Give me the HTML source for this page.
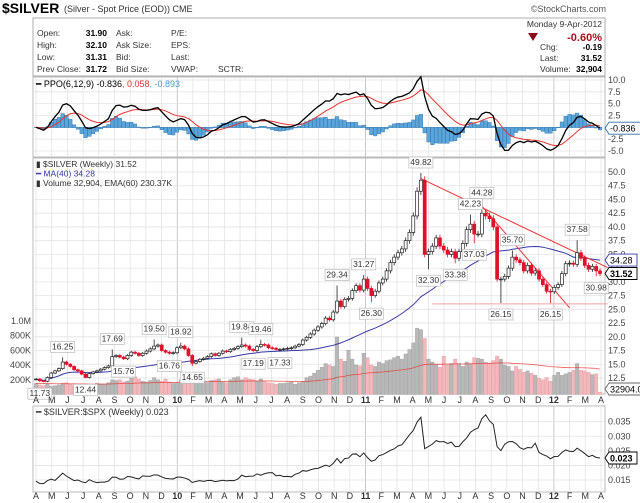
<!DOCTYPE html>
<html><head><meta charset="utf-8"><style>
body{margin:0;background:#fff;}
svg{display:block;font-family:"Liberation Sans",sans-serif;}
</style></head><body>
<svg id="c" width="640" height="503" viewBox="0 0 640 503">
<rect width="640" height="503" fill="#fff"/>
<text x="2" y="13" font-size="14" font-weight="bold">$SILVER</text>
<text x="64" y="12" font-size="9" fill="#333">(Silver - Spot Price (EOD)) CME</text>
<text x="606" y="12" font-size="9" fill="#555" text-anchor="end">©StockCharts.com</text>
<rect x="33" y="18" width="572" height="58" fill="#fff" stroke="#999" stroke-width="0.8"/>
<g font-size="8.5" fill="#333">
<text x="37" y="36">Open:</text><text x="37" y="48">High:</text><text x="37" y="60">Low:</text><text x="37" y="72">Prev Close:</text>
<g font-weight="bold" text-anchor="end" fill="#000"><text x="107" y="36">31.90</text><text x="107" y="48">32.10</text><text x="107" y="60">31.31</text><text x="107" y="72">31.72</text></g>
<text x="116" y="36">Ask:</text><text x="116" y="48">Ask Size:</text><text x="116" y="60">Bid:</text><text x="116" y="72">Bid Size:</text>
<text x="171" y="36">P/E:</text><text x="171" y="48">EPS:</text><text x="171" y="60">Last:</text><text x="171" y="72">VWAP:</text>
<text x="218" y="72">SCTR:</text>
<text x="602" y="27" text-anchor="end">Monday  9-Apr-2012</text>
<path d="M528,33 L538,33 L533,41 Z" fill="#8b0a1a"/>
<text x="602" y="41" text-anchor="end" font-size="11" font-weight="bold" fill="#a8101c">-0.60%</text>
<text x="540" y="50">Chg:</text><text x="602" y="50" text-anchor="end" font-weight="bold" fill="#000">-0.19</text>
<text x="540" y="61">Last:</text><text x="602" y="61" text-anchor="end" font-weight="bold" fill="#000">31.52</text>
<text x="540" y="72">Volume:</text><text x="602" y="72" text-anchor="end" font-weight="bold" fill="#000">32,904</text>
</g>
<g id="ppo"></g>
<g id="price"></g>
<g id="ratio"></g>
</svg>
<script>
const closes=[12.3,12.0,11.9,12.6,13.4,13.8,14.2,15.4,15.0,14.6,14.0,13.8,13.2,12.6,13.3,13.6,13.8,14.1,14.4,14.7,16.4,16.6,16.3,16.0,16.6,17.2,17.0,16.6,17.0,17.4,17.8,18.3,18.5,17.5,17.2,17.0,17.1,18.0,18.3,17.8,16.6,15.2,15.5,15.9,16.1,16.4,16.9,16.6,17.0,17.4,17.3,17.7,17.9,18.2,18.5,18.3,17.7,17.5,18.2,18.6,18.5,18.0,17.9,17.7,17.7,17.8,17.9,18.0,18.3,18.6,19.4,19.9,20.5,21.2,21.8,22.4,23.4,23.1,24.5,26.5,25.5,26.8,27.0,28.4,29.3,28.5,30.5,28.8,27.5,28.3,29.8,30.5,32.0,33.5,34.5,35.3,36.0,37.5,39.0,42.0,46.5,48.5,35.0,35.5,36.5,38.0,36.5,35.8,35.0,35.5,34.3,35.5,37.0,39.5,40.5,38.7,38.7,42.5,42.0,41.5,40.0,30.5,30.5,31.0,32.5,34.5,34.0,33.5,32.0,33.0,31.6,32.0,30.5,29.5,28.3,28.2,29.0,29.5,31.5,33.3,33.4,33.2,35.3,34.3,33.0,32.3,32.8,32.0,31.52];
const spx=[842,870,866,851,877,929,883,887,919,940,946,921,918,896,880,940,979,987,1010,1004,1026,1042,1068,1044,1025,1071,1087,1080,1036,1069,1093,1091,1110,1091,1105,1102,1114,1126,1145,1136,1091,1074,1066,1075,1109,1105,1138,1150,1159,1166,1178,1194,1212,1186,1110,1136,1088,1073,1064,1117,1076,1030,1022,1077,1065,1102,1101,1121,1079,1071,1064,1104,1110,1125,1148,1146,1165,1176,1183,1184,1225,1199,1199,1190,1224,1240,1256,1271,1283,1293,1276,1286,1310,1330,1343,1321,1330,1304,1279,1313,1333,1328,1360,1340,1337,1333,1300,1270,1271,1268,1296,1340,1316,1344,1292,1199,1178,1179,1124,1176,1173,1154,1216,1136,1155,1224,1238,1285,1253,1263,1215,1158,1247,1244,1219,1265,1258,1278,1289,1316,1344,1342,1361,1370,1371,1404,1397,1408,1398];
const volumes=[150,130,120,140,110,120,130,150,160,140,130,120,110,130,110,120,150,140,140,160,200,190,200,170,180,220,240,210,180,170,190,230,200,180,210,170,150,150,200,250,240,260,220,180,170,160,190,200,210,170,160,200,230,240,200,230,210,200,180,210,180,160,150,140,150,150,160,170,140,160,180,230,250,290,330,370,420,400,380,780,480,450,600,480,400,390,560,500,400,380,440,420,460,470,500,520,480,550,610,700,900,880,760,480,440,410,370,520,400,420,480,420,380,440,420,500,490,480,440,420,460,520,480,400,380,320,380,340,300,320,290,260,220,200,230,180,260,300,260,280,300,330,420,330,320,300,270,280,33];
const peakIdx=[1,7,13,20,23,31,35,38,41,54,57,59,64,79,86,88,101,103,110,114,115,117,122,125,135,142,147];
const peakVal=[11.73,16.25,12.44,17.69,15.76,19.50,16.76,18.92,14.65,19.84,17.19,19.46,17.33,29.34,31.27,26.30,49.82,32.30,33.38,42.23,37.03,44.28,26.15,35.70,26.15,37.58,30.98];
const peakIsHigh=[0,1,0,1,0,1,0,1,0,1,0,1,0,1,1,0,1,0,0,1,0,1,0,1,0,1,0];
const months=["A","M","J","J","A","S","O","N","D","10","F","M","A","M","J","J","A","S","O","N","D","11","F","M","A","M","J","J","A","S","O","N","D","12","F","M","A"];
const priceTicks=[50,47.5,45,42.5,40,37.5,35,32.5,30,27.5,25,22.5,20,17.5,15,12.5];
const volTicks=[200,400,600,800,1000];
const volTickLabels=["200K","400K","600K","800K","1.0M"];
const ppoTicks=[10,7.5,5,2.5,0,-2.5,-5];
const ratioTicks=[0.035,0.030,0.025,0.020,0.015];

const NS="http://www.w3.org/2000/svg";
function mk(parent,tag,attrs,txt){const e=document.createElementNS(NS,tag);for(const k in attrs)e.setAttribute(k,attrs[k]);if(txt!==undefined)e.textContent=txt;parent.appendChild(e);return e;}
const n=closes.length, L=33, R=605;
const X=i=>36+i*(600-36)/(n-1);
const MX=m=>36+m*(601-36)/36;
const PY=v=>172+(50-v)*5.493;
const VY=v=>394.5-v*0.07375;
const OY=v=>127.3-v*4.733;
const RY=v=>421.7-(v-0.035)*2915;

function panel(g,top,bot,ticks,yf,fmt){
  mk(g,'rect',{x:L,y:top,width:R-L,height:bot-top,fill:'#fff',stroke:'#aaa','stroke-width':0.8});
  months.forEach((m,k)=>{mk(g,'line',{x1:MX(k),x2:MX(k),y1:top,y2:bot,stroke:m.length>1?'#bbb':'#e3e3e3','stroke-width':0.8});});
  ticks.forEach(t=>{const y=yf(t);mk(g,'line',{x1:L,x2:R,y1:y,y2:y,stroke:'#e3e3e3','stroke-width':0.8});
    const tl=mk(g,'text',{x:608,y:y+3,'font-size':9,fill:'#444'},fmt(t));});
}
function monthAxis(g,y){months.forEach((m,k)=>{const t=mk(g,'text',{x:MX(k),y:y,'font-size':9,'text-anchor':'middle',fill:'#333','font-weight':m.length>1?'bold':'normal'},m);
  });}
function tag(g,x,y,txt,col,bold){mk(g,'path',{d:`M${x},${y} l4,-6 h${txt.length*5.2+2} v12 h-${txt.length*5.2+2} z`,fill:'#fff',stroke:col,'stroke-width':0.9});
  const t=mk(g,'text',{x:x+5,y:y+3.5,'font-size':9,fill:'#000','font-weight':bold?'bold':'normal'},txt);}
function ema(arr,p){const k=2/(p+1);const o=[];arr.forEach((v,i)=>o.push(i?o[i-1]+k*(v-o[i-1]):v));return o;}

// PPO
const gp=document.getElementById('ppo');
panel(gp,77,157,ppoTicks,OY,t=>t.toFixed(1));
const e6=ema(closes,6),e12=ema(closes,12);
const ppo=closes.map((c,i)=>(e6[i]-e12[i])/e12[i]*100);
const sig=ema(ppo,9);
ppo.forEach((p,i)=>{const h=p-sig[i];const y0=OY(0),y1=OY(h);
  const b=mk(gp,'rect',{x:X(i)-1.8,y:Math.min(y0,y1),width:3.6,height:Math.abs(y1-y0)+0.3,fill:'#5aa5da',stroke:'#2a6fa8','stroke-width':0.4});
  });
const sl=mk(gp,'polyline',{points:sig.map((v,i)=>X(i)+','+OY(v)).join(' '),fill:'none',stroke:'#e8332f','stroke-width':1});

const pl=mk(gp,'polyline',{points:ppo.map((v,i)=>X(i)+','+OY(v)).join(' '),fill:'none',stroke:'#000','stroke-width':1.3});

const pleg=mk(gp,'text',{x:36,y:87,'font-size':9});
mk(pleg,'tspan',{fill:'#000'},'━ PPO(6,12,9) -0.836');mk(pleg,'tspan',{fill:'#e8332f'},', 0.058');mk(pleg,'tspan',{fill:'#4a9ad4'},', -0.893');
tag(gp,605,OY(ppo[n-1]),'-0.836','#2a6fa8',false);

// Price
const g=document.getElementById('price');
panel(g,158,394,priceTicks,PY,t=>t.toFixed(1));
volTicks.forEach((v,k)=>{const t=mk(g,'text',{x:31,y:VY(v)+3,'font-size':9,fill:'#444','text-anchor':'end'},volTickLabels[k]);});
volumes.forEach((v,i)=>{const down=i>0&&closes[i]<closes[i-1];
  const b=mk(g,'rect',{x:X(i)-1.7,y:VY(v),width:3.4,height:394.5-VY(v),fill:down?'#f2b8bc':'#b8b8b8',stroke:down?'#e89aa0':'#a0a0a0','stroke-width':0.4});
  });
const vema=ema(volumes,60);
const vl=mk(g,'polyline',{points:vema.map((v,i)=>X(i)+','+VY(v)).join(' '),fill:'none',stroke:'#e8332f','stroke-width':0.8,opacity:0.8});

const ma=closes.map((c,i)=>{const s=closes.slice(Math.max(0,i-39),i+1);return s.reduce((a,b)=>a+b,0)/s.length;});
const ml=mk(g,'polyline',{points:ma.map((v,i)=>X(i)+','+PY(v)).join(' '),fill:'none',stroke:'#3838a8','stroke-width':1});

[[101,48.8,150,32.6],[117,43.8,140,25.3],[104,26.0,150,26.0]].forEach(t=>{const l=mk(g,'line',{x1:X(t[0]),y1:PY(t[1]),x2:X(t[2]),y2:PY(t[3]),stroke:t[1]===t[3]?'#f4a0a0':'#f03030','stroke-width':1});
  });
closes.forEach((c,i)=>{const o=i?closes[i-1]:c;const pk=peakIdx.indexOf(i);
  let hi=Math.max(o,c)*1.015,lo=Math.min(o,c)*0.985;
  if(pk>=0){if(peakIsHigh[pk])hi=peakVal[pk];else lo=peakVal[pk];}
  const down=c<o;
  const w=mk(g,'line',{x1:X(i),x2:X(i),y1:PY(hi),y2:PY(lo),stroke:down?'#e0102a':'#222','stroke-width':0.8});
  
  const b=mk(g,'rect',{x:X(i)-1.5,y:PY(Math.max(o,c)),width:3,height:Math.max(0.8,Math.abs(PY(o)-PY(c))),fill:down?'#e0102a':'#fff',stroke:down?'#e0102a':'#222','stroke-width':0.7});
  });
peakIdx.forEach((i,k)=>{const v=peakVal[k];const hiP=peakIsHigh[k];const y=hiP?PY(v)-8:PY(v)+14;const txt=v.toFixed(2);
  mk(g,'rect',{x:X(i)-12,y:y-8,width:24,height:11,fill:'#fff',stroke:'#bbb','stroke-width':0.7});
  const t=mk(g,'text',{x:X(i),y:y,'font-size':8.5,'text-anchor':'middle',fill:'#333'},txt);
  });
const lg=[["▮ $SILVER (Weekly) 31.52","#333"],["━ MA(40) 34.28","#3838a8"],["▮ Volume 32,904, EMA(60) 230.37K","#333"]];
lg.forEach((l,k)=>{const t=mk(g,'text',{x:36,y:167+k*9.5,'font-size':8.5,fill:l[1]},l[0]);});
tag(g,605,PY(ma[n-1]),'34.28','#3838a8',false);
tag(g,605,PY(closes[n-1]),'31.52','#000',true);
tag(g,605,389,'32904.0','#666',false);
monthAxis(g,403);

// Ratio
const gr=document.getElementById('ratio');
panel(gr,406,492,ratioTicks,RY,t=>t.toFixed(3));
const ratio=closes.map((c,i)=>c/spx[i]);
const rl=mk(gr,'polyline',{points:ratio.map((v,i)=>X(i)+','+RY(v)).join(' '),fill:'none',stroke:'#222','stroke-width':1});

const rt=mk(gr,'text',{x:36,y:415,'font-size':9,fill:'#333'},'━ $SILVER:$SPX (Weekly) 0.023');
tag(gr,605,RY(ratio[n-1]),'0.023','#000',true);
monthAxis(gr,499);
</script>
</body></html>
